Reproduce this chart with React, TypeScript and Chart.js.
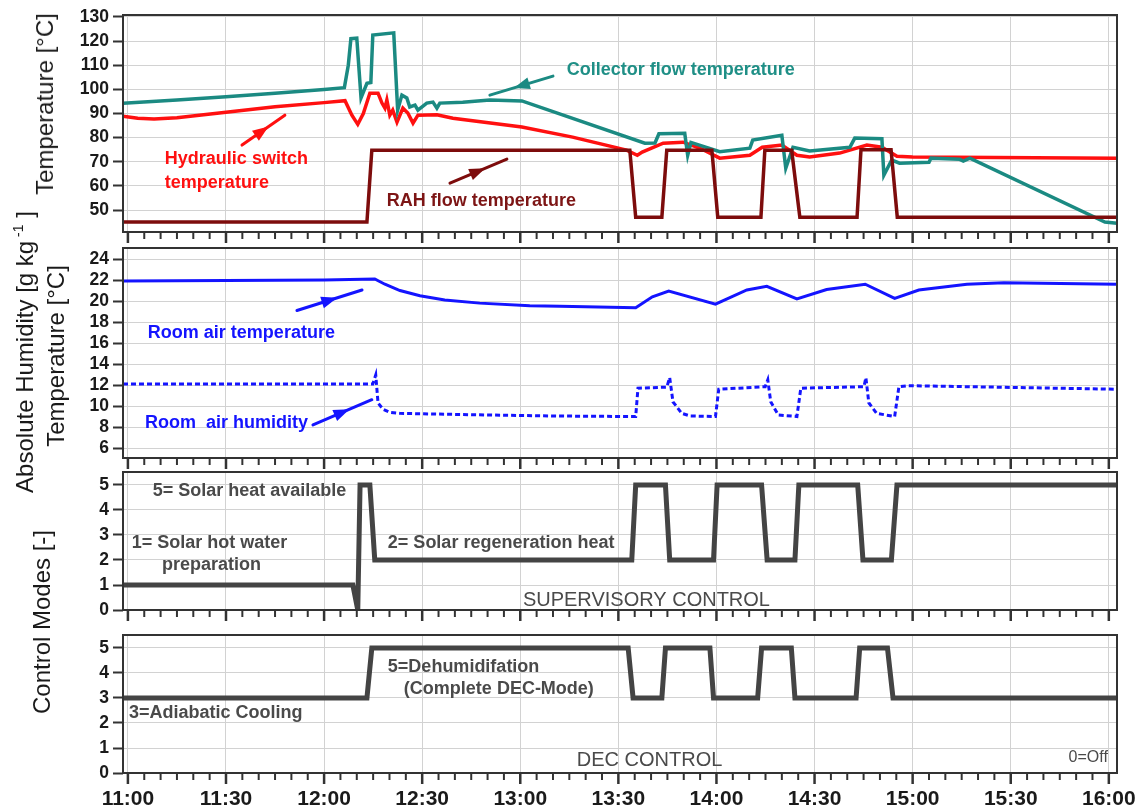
import React, { useEffect, useRef } from 'react';
import { Chart, registerables } from 'chart.js';
Chart.register(...registerables);

const FONT = "'Liberation Sans', Arial, sans-serif";

// x = minutes after 11:00
const X_MIN = -1.5;
const X_MAX = 302.5;
const X_MAJOR = [0, 30, 60, 90, 120, 150, 180, 210, 240, 270, 300];
const X_LABELS = ['11:00', '11:30', '12:00', '12:30', '13:00', '13:30', '14:00', '14:30', '15:00', '15:30', '16:00'];
const X_MINOR_STEP = 5;

const Y1_TICKS = [50, 60, 70, 80, 90, 100, 110, 120, 130];
const Y2_TICKS = [6, 8, 10, 12, 14, 16, 18, 20, 22, 24];
const Y3_TICKS = [0, 1, 2, 3, 4, 5];
const Y4_TICKS = [0, 1, 2, 3, 4, 5];

const COLLECTOR_T = [-1.5, 15, 30, 45, 60, 66.2, 67.4, 68.2, 70, 71.3, 73.1, 74.3, 74.9, 81.3, 82.5, 83.8, 85.3, 86.2, 87.8, 88.7, 91.4, 93.3, 94.5, 95.4, 102.4, 110.7, 120.5, 158.1, 161.2, 162.4, 170.3, 171.2, 172.2, 181, 190.2, 191.1, 200, 201.2, 203.4, 208.5, 220.8, 222.3, 230.6, 231.2, 233.6, 236, 245, 245.6, 254.4, 255.5, 257.5, 298.8, 302.5];
const COLLECTOR_V = [94.2, 95.6, 96.9, 98.4, 99.9, 100.7, 110, 121, 121.2, 96.5, 102.5, 102.8, 122.5, 123.4, 91.4, 97.6, 96.4, 92.7, 93.5, 91.4, 94.3, 94.7, 92.2, 94.3, 94.7, 95.6, 95.2, 77.7, 77.8, 81.6, 81.8, 72.7, 78, 74.2, 75.6, 79, 81, 67.3, 76, 74.5, 76, 79.8, 79.5, 64.4, 70.7, 69.4, 69.8, 71.5, 71, 70.3, 71.5, 45, 44.5];

const HYDRAULIC_T = [-1.5, 3, 8, 15, 30, 45, 60, 66.4, 68.5, 70.3, 72, 74, 76.5, 77.7, 78.6, 79.2, 80.1, 81, 82.3, 84.1, 85.6, 87.2, 88.7, 94.5, 99.4, 120.5, 136, 152.5, 155.8, 157.3, 163.7, 169.8, 175, 181, 190.2, 194, 200, 204.6, 208.5, 217.7, 226, 230.6, 235.2, 240, 302.5];
const HYDRAULIC_V = [88.9, 88, 87.7, 88.2, 90.5, 92.8, 94.5, 95.3, 89.3, 85.5, 90, 98.4, 98.4, 94.3, 92.2, 95.6, 89.3, 91.4, 86.4, 92.2, 90.2, 86, 89.3, 89.5, 88, 84.4, 80.2, 74.8, 72.7, 74, 77.7, 78.1, 75.6, 71.5, 72.7, 76, 76.9, 72.7, 72, 73.6, 76.9, 76, 72.3, 72, 71.5];

const RAH_T = [-1.5, 73.1, 74.6, 153.5, 155.3, 163.3, 164.8, 178.6, 180.4, 193.6, 194.8, 203, 205.5, 223, 224.2, 233.4, 235.3, 302.5];
const RAH_V = [45, 45, 74.8, 74.8, 47, 47, 74.8, 74.8, 47, 47, 74.8, 74.8, 47, 47, 75, 75, 47, 47];

const ROOM_TEMP_T = [-1.5, 30, 60, 75.5, 78.6, 83.2, 89.3, 96.9, 107.6, 122.9, 132.1, 155.3, 160.4, 165.4, 179.7, 189.3, 195.4, 204.6, 213.7, 225.5, 234.5, 241.9, 256.6, 267.9, 302.5];
const ROOM_TEMP_V = [21.9, 21.95, 22.0, 22.1, 21.6, 21.0, 20.5, 20.1, 19.8, 19.55, 19.5, 19.36, 20.4, 20.95, 19.7, 21.05, 21.4, 20.2, 21.1, 21.6, 20.25, 21.05, 21.6, 21.75, 21.6];

const ROOM_HUM_T = [-1.5, 74.9, 75.8, 76.5, 78, 80.1, 83.2, 100, 130, 155.3, 156, 164.8, 165.7, 166.7, 169.4, 172, 179.7, 180.7, 194.9, 195.7, 196.6, 198.9, 204.6, 205.8, 225.1, 225.7, 226.6, 229, 234.5, 235.8, 238.5, 302.5];
const ROOM_HUM_V = [12.1, 12.1, 12.95, 10.3, 9.7, 9.4, 9.3, 9.2, 9.05, 9.0, 11.7, 11.8, 12.7, 10.4, 9.3, 9.05, 9.0, 11.6, 11.84, 12.5, 10.4, 9.15, 9.0, 11.7, 11.84, 12.7, 10.3, 9.3, 9.0, 11.84, 11.94, 11.6];

const SUP_T = [-1.5, 68.8, 70.3, 71, 74, 75.5, 154.1, 155.3, 164.4, 165.7, 179.1, 180.2, 193.8, 195.5, 204, 205.2, 223.2, 224.8, 233.5, 235.2, 302.5];
const SUP_V = [1, 1, 0, 5, 5, 2, 2, 5, 5, 2, 2, 5, 5, 2, 2, 5, 5, 2, 2, 5, 5];

const DEC_T = [-1.5, 73.1, 74.6, 153, 154.5, 163.3, 164.4, 178, 179.1, 192.6, 193.8, 202.9, 204, 222.7, 223.8, 232.3, 234, 302.5];
const DEC_V = [3, 3, 5, 5, 3, 3, 5, 5, 3, 3, 5, 5, 3, 3, 5, 5, 3, 3];

const TEAL = '#1b8a82';
const RED = '#ff1010';
const DARKRED = '#7d0c0c';
const BLUE = '#1414ff';
const GREY = '#444444';
const TXTGREY = '#4a4a4a';

type Series = { t: number[]; v: number[]; color: string; width: number; dash?: number[] };
type Label = { t: number; v: number; text: string; color: string; size: number; bold: boolean; align?: CanvasTextAlign };
type Arrow = { t1: number; v1: number; t2: number; v2: number; color: string };
type Panel = {
  top: number; plotH: number; bottomH: number; yMin: number; yMax: number; yTicks: number[];
  showX: boolean; series: Series[]; labels: Label[]; arrows: Arrow[];
};

const PADT = 12;
const LEFT = 123;
const RIGHT_PAD = 27;

const PANELS: Panel[] = [
  {
    top: 15, plotH: 217, bottomH: 14, yMin: 40.9, yMax: 130.8, yTicks: Y1_TICKS, showX: false,
    series: [
      { t: RAH_T, v: RAH_V, color: DARKRED, width: 3.5 },
      { t: COLLECTOR_T, v: COLLECTOR_V, color: TEAL, width: 3.5 },
      { t: HYDRAULIC_T, v: HYDRAULIC_V, color: RED, width: 3.5 },
    ],
    labels: [
      { t: 134.2, v: 108, text: 'Collector flow temperature', color: '#1f8f86', size: 18, bold: true },
      { t: 11.3, v: 71.1, text: 'Hydraulic switch', color: RED, size: 18, bold: true },
      { t: 11.3, v: 61.1, text: 'temperature', color: RED, size: 18, bold: true },
      { t: 79.2, v: 53.7, text: 'RAH flow temperature', color: '#7d1515', size: 18, bold: true },
    ],
    arrows: [
      { t1: 130, v1: 105.5, t2: 110.7, v2: 97.6, color: TEAL },
      { t1: 34.9, v1: 76.9, t2: 48, v2: 89.3, color: RED },
      { t1: 98.5, v1: 61.1, t2: 115.9, v2: 71.1, color: DARKRED },
    ],
  },
  {
    top: 248, plotH: 210, bottomH: 14, yMin: 5.05, yMax: 25.05, yTicks: Y2_TICKS, showX: false,
    series: [
      { t: ROOM_TEMP_T, v: ROOM_TEMP_V, color: BLUE, width: 3 },
      { t: ROOM_HUM_T, v: ROOM_HUM_V, color: BLUE, width: 3, dash: [5, 3] },
    ],
    labels: [
      { t: 6.1, v: 16.95, text: 'Room air temperature', color: BLUE, size: 18, bold: true },
      { t: 5.2, v: 8.4, text: 'Room  air humidity', color: BLUE, size: 18, bold: true },
    ],
    arrows: [
      { t1: 51.7, v1: 19.1, t2: 71.6, v2: 21.05, color: BLUE },
      { t1: 56.6, v1: 8.2, t2: 74.6, v2: 10.6, color: BLUE },
    ],
  },
  {
    top: 472, plotH: 138, bottomH: 14, yMin: 0, yMax: 5.52, yTicks: Y3_TICKS, showX: false,
    series: [{ t: SUP_T, v: SUP_V, color: GREY, width: 5 }],
    labels: [
      { t: 7.6, v: 4.76, text: '5= Solar heat available', color: TXTGREY, size: 18, bold: true },
      { t: 1.2, v: 2.68, text: '1= Solar hot water', color: TXTGREY, size: 18, bold: true },
      { t: 10.4, v: 1.8, text: 'preparation', color: TXTGREY, size: 18, bold: true },
      { t: 79.5, v: 2.68, text: '2= Solar regeneration heat', color: TXTGREY, size: 18, bold: true },
      { t: 120.8, v: 0.4, text: 'SUPERVISORY CONTROL', color: TXTGREY, size: 20, bold: false },
    ],
    arrows: [],
  },
  {
    top: 635, plotH: 138, bottomH: 39, yMin: 0, yMax: 5.52, yTicks: Y4_TICKS, showX: true,
    series: [{ t: DEC_T, v: DEC_V, color: GREY, width: 5 }],
    labels: [
      { t: 79.5, v: 4.24, text: '5=Dehumidifation', color: TXTGREY, size: 18, bold: true },
      { t: 84.4, v: 3.36, text: '(Complete DEC-Mode)', color: TXTGREY, size: 18, bold: true },
      { t: 0.3, v: 2.4, text: '3=Adiabatic Cooling', color: TXTGREY, size: 18, bold: true },
      { t: 137.3, v: 0.52, text: 'DEC CONTROL', color: TXTGREY, size: 20, bold: false },
      { t: 299.7, v: 0.6, text: '0=Off', color: TXTGREY, size: 16, bold: false, align: 'right' },
    ],
    arrows: [],
  },
];

function drawArrow(ctx: CanvasRenderingContext2D, x1: number, y1: number, x2: number, y2: number, color: string) {
  const dx = x2 - x1, dy = y2 - y1;
  const len = Math.hypot(dx, dy);
  const ux = dx / len, uy = dy / len;
  ctx.strokeStyle = color;
  ctx.fillStyle = color;
  ctx.lineWidth = 3;
  ctx.lineCap = 'round';
  ctx.beginPath();
  ctx.moveTo(x1, y1);
  ctx.lineTo(x2, y2);
  ctx.stroke();
  const tx = x1 + dx * 0.62, ty = y1 + dy * 0.62;
  const hl = 16, hw = 6;
  const bx = tx - ux * hl, by = ty - uy * hl;
  ctx.beginPath();
  ctx.moveTo(tx, ty);
  ctx.lineTo(bx - uy * hw, by + ux * hw);
  ctx.lineTo(bx + uy * hw, by - ux * hw);
  ctx.closePath();
  ctx.fill();
}

function makeChart(canvas: HTMLCanvasElement, p: Panel) {
  const overlay = {
    id: 'overlay',
    afterDatasetsDraw(chart: any) {
      const ctx: CanvasRenderingContext2D = chart.ctx;
      const a = chart.chartArea;
      const xs = chart.scales.x;
      const ys = chart.scales.y;
      ctx.save();
      ctx.strokeStyle = '#333';
      ctx.lineWidth = 2;
      ctx.strokeRect(a.left, a.top, a.right - a.left, a.bottom - a.top);
      for (let t = 0; t <= X_MAJOR[X_MAJOR.length - 1]; t += X_MINOR_STEP) {
        const major = X_MAJOR.includes(t);
        const px = xs.getPixelForValue(t);
        ctx.lineWidth = major ? 2.5 : 2;
        ctx.beginPath();
        ctx.moveTo(px, a.bottom);
        ctx.lineTo(px, a.bottom + (major ? 11 : 7));
        ctx.stroke();
      }
      for (const l of p.labels) {
        ctx.font = `${l.bold ? 'bold ' : ''}${l.size}px ${FONT}`;
        ctx.fillStyle = l.color;
        ctx.textAlign = l.align || 'left';
        ctx.textBaseline = 'middle';
        ctx.fillText(l.text, xs.getPixelForValue(l.t), ys.getPixelForValue(l.v));
      }
      for (const ar of p.arrows) {
        drawArrow(ctx, xs.getPixelForValue(ar.t1), ys.getPixelForValue(ar.v1), xs.getPixelForValue(ar.t2), ys.getPixelForValue(ar.v2), ar.color);
      }
      ctx.restore();
    },
  };

  return new Chart(canvas, {
    type: 'line',
    data: {
      datasets: p.series.map((s) => ({
        data: s.t.map((t, i) => ({ x: t, y: s.v[i] })),
        borderColor: s.color,
        borderWidth: s.width,
        borderDash: s.dash || [],
        borderJoinStyle: 'miter' as const,
        borderCapStyle: 'butt' as const,
        pointRadius: 0,
        tension: 0,
        fill: false,
      })),
    },
    options: {
      animation: false,
      responsive: false,
      maintainAspectRatio: false,
      devicePixelRatio: 1,
      layout: { padding: { left: 0, right: RIGHT_PAD, top: PADT, bottom: 0 } },
      plugins: { legend: { display: false }, tooltip: { enabled: false } },
      scales: {
        x: {
          type: 'linear',
          min: X_MIN,
          max: X_MAX,
          afterBuildTicks: (axis: any) => { axis.ticks = X_MAJOR.map((v) => ({ value: v })); },
          afterFit: (axis: any) => {
            axis.height = p.bottomH;
            axis.paddingLeft = 0;
            axis.paddingRight = 0;
          },
          grid: { color: '#d2d2d2', lineWidth: 1, drawTicks: false },
          border: { display: false },
          ticks: {
            display: p.showX,
            autoSkip: false,
            maxRotation: 0,
            padding: 14,
            color: '#1a1a1a',
            font: { family: FONT, size: 21, weight: 'bold' },
            callback: (v: any) => X_LABELS[X_MAJOR.indexOf(Number(v))] ?? '',
          },
        },
        y: {
          type: 'linear',
          min: p.yMin,
          max: p.yMax,
          afterBuildTicks: (axis: any) => { axis.ticks = p.yTicks.map((v) => ({ value: v })); },
          afterFit: (axis: any) => {
            axis.width = LEFT;
            axis.paddingTop = 0;
            axis.paddingBottom = 0;
          },
          grid: { color: '#d2d2d2', lineWidth: 1, drawTicks: true, tickLength: 10, tickColor: '#333', tickWidth: 2 },
          border: { display: false },
          ticks: {
            autoSkip: false,
            padding: 4,
            color: '#1a1a1a',
            font: { family: FONT, size: 17.5, weight: 'bold' },
            callback: (v: any) => String(v),
          },
        },
      },
    },
    plugins: [overlay],
  } as any);
}

function PanelChart({ p }: { p: Panel }) {
  const ref = useRef<HTMLCanvasElement | null>(null);
  const h = PADT + p.plotH + p.bottomH;
  useEffect(() => {
    if (!ref.current) return;
    const c = makeChart(ref.current, p);
    return () => c.destroy();
  }, [p]);
  return (
    <canvas
      ref={ref}
      width={1144}
      height={h}
      style={{ position: 'absolute', left: 0, top: p.top - PADT, width: 1144, height: h }}
    />
  );
}

const titleStyle = (cx: number, cy: number): React.CSSProperties => ({
  position: 'absolute',
  left: cx,
  top: cy,
  transform: 'translate(-50%, -50%) rotate(-90deg)',
  whiteSpace: 'nowrap',
  fontFamily: FONT,
  fontSize: 24,
  lineHeight: 1,
  color: '#1a1a1a',
});

export default function App() {
  return (
    <div style={{ position: 'absolute', left: 0, top: 0, width: 1144, height: 812, background: '#fff', overflow: 'hidden' }}>
      {PANELS.map((p, i) => (
        <PanelChart key={i} p={p} />
      ))}
      <div style={titleStyle(45, 104)}>Temperature [°C]</div>
      <div style={titleStyle(25, 352)}>
        Absolute Humidity [g kg<span style={{ fontSize: 14, position: 'relative', top: -10 }}> -1</span> ]
      </div>
      <div style={titleStyle(56, 356)}>Temperature [°C]</div>
      <div style={titleStyle(42, 622)}>Control Modes [-]</div>
    </div>
  );
}
